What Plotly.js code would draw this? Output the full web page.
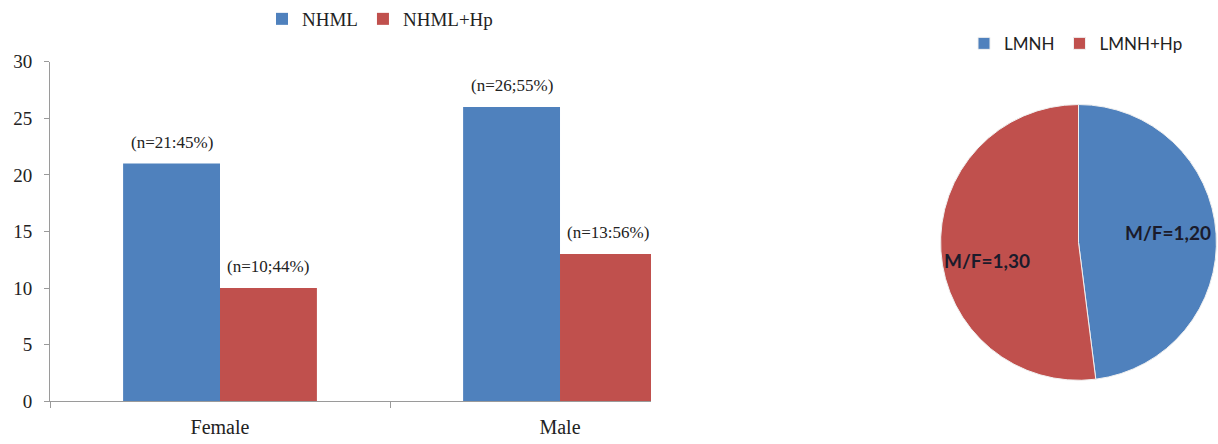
<!DOCTYPE html>
<html>
<head>
<meta charset="utf-8">
<script src="https://cdn.plot.ly/plotly-3.0.1.min.js"></script>
<style>html,body{margin:0;padding:0;background:#fff;}#chart{width:1218px;height:444px;}</style>
</head>
<body>
<div id="chart"></div>
<script>
const categories = ['Female', 'Male'];
const nhmlValues = [21, 26];
const nhmlHpValues = [10, 13];
const nhmlLabels = ['(n=21:45%)', '(n=26;55%)'];
const nhmlHpLabels = ['(n=10;44%)', '(n=13:56%)'];
const seriesNames = ['NHML', 'NHML+Hp'];
const yTicks = [0, 5, 10, 15, 20, 25, 30];

const pieLabels = ['LMNH', 'LMNH+Hp'];
const pieValues = [1.20, 1.30];
const pieText = ['M/F=1,20', 'M/F=1,30'];

const BLUE = '#4F81BD';
const RED = '#C0504D';
const W = 1218, H = 444;
const serif = 'Liberation Serif, Times New Roman, serif';
const sans = 'Lato, Open Sans, sans-serif';
const BARGAP = 0.43;

const labelFont = {family: serif, size: 17, color: '#222'};

const traces = [
  {
    type: 'bar', name: seriesNames[0], x: categories, y: nhmlValues,
    marker: {color: BLUE}, legend: 'legend', hoverinfo: 'none'
  },
  {
    type: 'bar', name: seriesNames[1], x: categories, y: nhmlHpValues,
    marker: {color: RED}, legend: 'legend', hoverinfo: 'none'
  },
  {
    type: 'pie', labels: pieLabels, values: pieValues,
    textinfo: 'none', sort: false, direction: 'clockwise',
    rotation: 0, hoverinfo: 'none',
    marker: {colors: [BLUE, RED], line: {color: '#f0f0f0', width: 1}},
    domain: {x: [940 / W, 1217 / W], y: [(H - 380) / H, (H - 103) / H]},
    legend: 'legend2'
  }
];

// Data labels above the grouped bars (positions derived from the data arrays)
const annotations = [];
const barW = (1 - BARGAP) / 2;
[[nhmlValues, nhmlLabels, -0.5], [nhmlHpValues, nhmlHpLabels, 0.5]].forEach(([vals, labs, k]) => {
  vals.forEach((v, i) => {
    annotations.push({
      x: i + k * barW, y: v, xref: 'x', yref: 'y', text: labs[i],
      showarrow: false, yanchor: 'bottom', yshift: 10, font: labelFont
    });
  });
});

// Pie slice labels along each slice's bisector
const pieDom = {x0: 940 / W, x1: 1217 / W, y0: (H - 380) / H, y1: (H - 103) / H};
const cxPx = (pieDom.x0 + pieDom.x1) / 2 * W;
const cyPx = (1 - (pieDom.y0 + pieDom.y1) / 2) * H;
const rPx = Math.min((pieDom.x1 - pieDom.x0) * W, (pieDom.y1 - pieDom.y0) * H) / 2;
const total = pieValues.reduce((a, b) => a + b, 0);
let acc = 0;
const labelR = [0.65, 0.66];
const labelDy = [-4, 12];
pieValues.forEach((v, i) => {
  const mid = (acc + v / 2) / total * 2 * Math.PI;
  acc += v;
  const px = cxPx + labelR[i] * rPx * Math.sin(mid);
  const py = cyPx - labelR[i] * rPx * Math.cos(mid) + labelDy[i];
  annotations.push({
    x: px / W, y: 1 - py / H, xref: 'paper', yref: 'paper', text: pieText[i],
    showarrow: false, xanchor: 'center', yanchor: 'middle',
    font: {family: sans, size: 19, color: '#1b1b2b', weight: 'bold'}
  });
});

const layout = {
  width: W, height: H,
  margin: {l: 0, r: 0, t: 0, b: 0},
  paper_bgcolor: '#fff', plot_bgcolor: '#fff',
  barmode: 'group', bargap: BARGAP, bargroupgap: 0,
  showlegend: true,
  annotations: annotations,
  xaxis: {
    domain: [50 / W, 651 / W], range: [-0.5, 1.2676],
    showline: true, linecolor: '#9a9a9a', linewidth: 1,
    ticks: 'outside', tickson: 'boundaries', ticklen: 6, tickcolor: '#9a9a9a',
    tickfont: {family: serif, size: 20, color: '#222'}, ticklabelstandoff: 8,
    showgrid: false, zeroline: false, fixedrange: true
  },
  yaxis: {
    domain: [(H - 401) / H, (H - 60) / H], range: [0, 30],
    tickvals: yTicks,
    showline: true, linecolor: '#9a9a9a', linewidth: 1,
    ticks: 'outside', ticklen: 5, tickcolor: '#9a9a9a',
    tickfont: {family: serif, size: 19, color: '#222'}, ticklabelstandoff: 8,
    showgrid: false, zeroline: false, fixedrange: true
  },
  legend: {
    orientation: 'h', x: 262 / W, xanchor: 'left', y: 1 - 17 / H, yanchor: 'middle',
    font: {family: serif, size: 19, color: '#222'}, bgcolor: 'rgba(0,0,0,0)'
  },
  legend2: {
    orientation: 'h', x: 964 / W, xanchor: 'left', y: 1 - 42 / H, yanchor: 'middle',
    font: {family: sans, size: 17, color: '#222'}, bgcolor: 'rgba(0,0,0,0)'
  }
};

Plotly.newPlot('chart', traces, layout, {displayModeBar: false, staticPlot: true});
</script>
</body>
</html>
